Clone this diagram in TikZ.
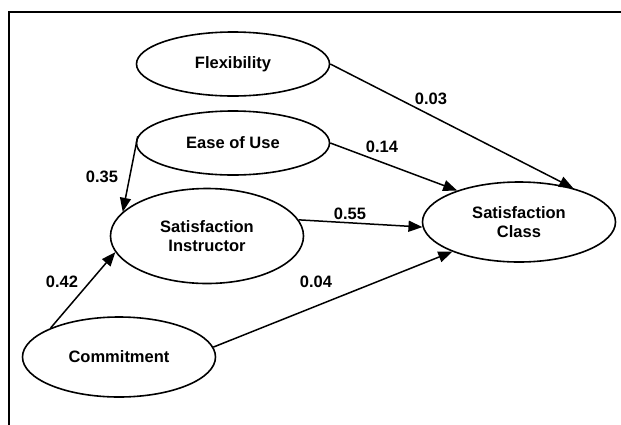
\documentclass[tikz,border=0pt]{standalone}
\usepackage{fontspec}
\setmainfont{Liberation Sans}
\usepackage{tikz}
\usetikzlibrary{shapes.geometric, arrows.meta}
\definecolor{pathblack}{RGB}{0, 0, 0}

\tikzset{
    construct/.style={draw=pathblack, ellipse, line width=1.6pt, inner sep=0pt,
        minimum width=193pt, minimum height=64pt, align=center,
        font=\bfseries\fontsize{16.5}{19}\selectfont},
    pathlink/.style={draw=pathblack, line width=1.5pt,
        -{Triangle[length=14pt, width=11pt]}},
    coef/.style={font=\bfseries\fontsize{16.5}{19}\selectfont}
}

\begin{document}
\begin{tikzpicture}[x=1pt, y=-1pt]
    \useasboundingbox (0,0) rectangle (621,424);
    % open frame
    \draw[line width=2pt] (9,430) -- (9,12) -- (630,12);

    % latent constructs
    \node[construct] (flex) at (233,64) {Flexibility};
    \node[construct] (ease) at (233,143) {Ease of Use};
    \node[construct, minimum height=95pt] (instr) at (207,236) {Satisfaction\\ Instructor};
    \node[construct, minimum height=80pt] (class) at (519,222) {Satisfaction\\ Class};
    \node[construct, minimum height=80pt] (commit) at (119,357) {Commitment};

    % structural paths
    \draw[pathlink] (flex.east) -- (class.32);
    \draw[pathlink] (ease.east) -- (class.153);
    \draw[pathlink] (ease.176) -- (instr.164);
    \draw[pathlink] (instr.10) -- (class.183);
    \draw[pathlink] (commit.157) -- (instr.190);
    \draw[pathlink] (commit.6) -- (class.204);

    % path coefficients
    \node[coef] (cflex) at (431,99) {0.03};
    \node[coef] (cease) at (382,147) {0.14};
    \node[coef] (cinstr) at (102,177) {0.35};
    \node[coef] (csat) at (350,214) {0.55};
    \node[coef] (ccomm) at (62,282) {0.42};
    \node[coef] (cclass) at (316,282) {0.04};
\end{tikzpicture}
\end{document}
